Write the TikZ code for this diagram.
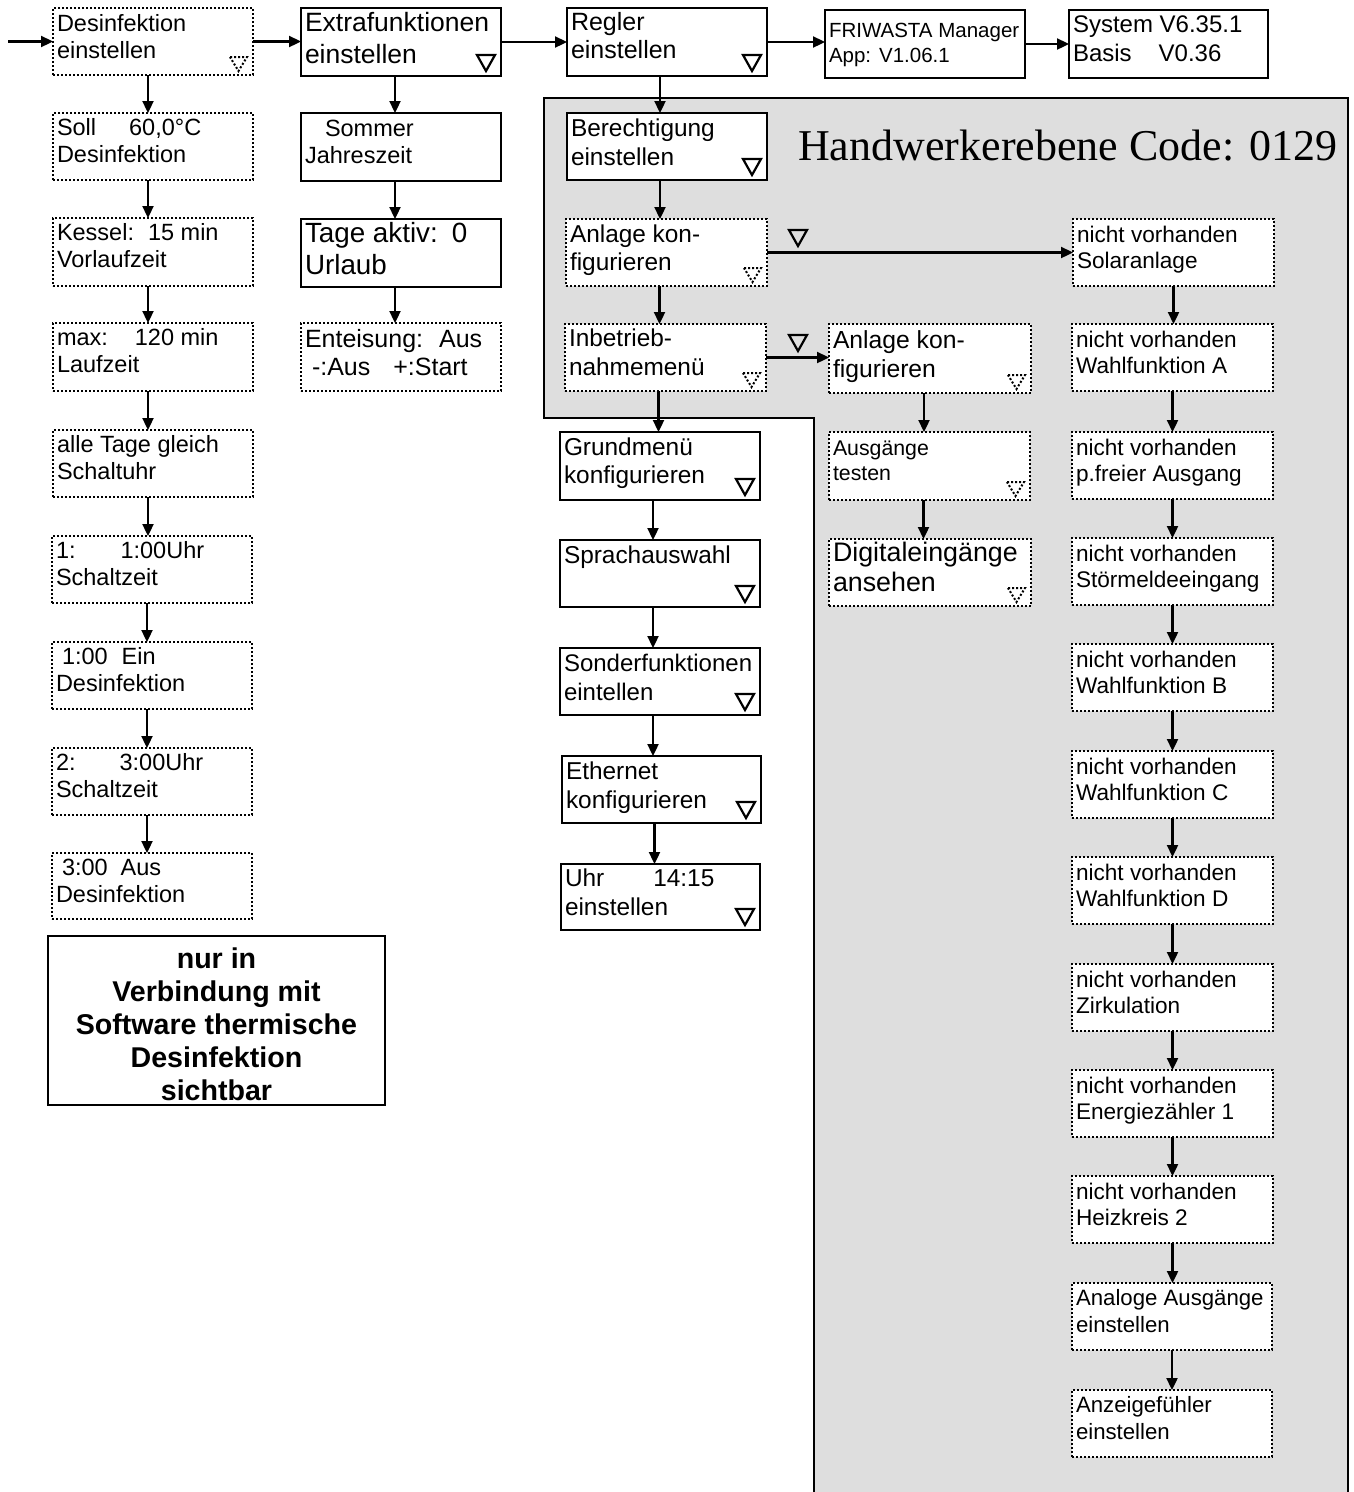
\documentclass[tikz,border=0pt]{standalone}
\usepackage{fontspec}
\setmainfont{Liberation Sans}
\newfontfamily\seriffont{Liberation Serif}
\usetikzlibrary{arrows.meta,calc}
\definecolor{bggray}{RGB}{222,222,222}
\newcommand\tb[3]{\parbox[c][\dimexpr#2pt-4pt\relax][t]{\dimexpr#1pt-8pt\relax}{#3}}
\newcommand\fl[1]{\rule{0pt}{\dimexpr#1pt-2pt\relax}}
\newcommand\fs[2]{\fontsize{#1pt}{#2pt}\selectfont}
\newcommand\stri[1]{\draw[stri] ($(#1.south east)+(-24,-21)$) -- ++(18,0) -- ++(-9,16) -- cycle;}
\newcommand\dtri[1]{\draw[dtri] ($(#1.south east)+(-23,-18)$) -- ++(17,0) -- ++(-8.5,14) -- cycle;}
\begin{document}
\begin{tikzpicture}[x=1pt,y=-1pt,
 box/.style={anchor=north west, inner sep=0pt, outer sep=0pt, fill=white, text=black},
 sbox/.style={box, draw, line width=2pt},
 dbox/.style={box, draw, line width=2pt, dash pattern=on 2pt off 2pt},
 arr/.style={line width=2.3pt, -{Triangle[length=12pt,width=11pt]}},
 stri/.style={line width=2.2pt, line join=miter},
 dtri/.style={line width=2pt, dash pattern=on 2pt off 2pt}]
\useasboundingbox[fill=white] (0,0) rectangle (1353,1492);

% grey area
\fill[bggray] (544,98) -- (1348,98) -- (1348,1500) -- (814,1500) -- (814,418) -- (544,418) -- cycle;
\draw[line width=2.5pt] (814,1500) -- (814,418) -- (544,418) -- (544,98) -- (1348,98) -- (1348,1500);
\node[anchor=base west, inner sep=0pt] (hw) at (798,160) {\seriffont\fs{44}{50}Handwerkerebene Code: 0129};

% column 1
\node[dbox, minimum width=200pt, minimum height=67pt] (d1) at (53,8) {\tb{200}{67}{\fs{23.5}{27}\fl{23}Desinfektion\\einstellen}};
\node[dbox, minimum width=200pt, minimum height=67pt] (d2) at (53,113) {\tb{200}{67}{\fs{23.5}{27}\fl{22}Soll\hspace{33pt}60,0°C\\Desinfektion}};
\node[dbox, minimum width=200pt, minimum height=68pt] (d3) at (53,218) {\tb{200}{68}{\fs{23.5}{27}\fl{22}Kessel:\hspace{14pt}15 min\\Vorlaufzeit}};
\node[dbox, minimum width=200pt, minimum height=68pt] (d4) at (53,323) {\tb{200}{68}{\fs{23.5}{27}\fl{22}max:\hspace{27pt}120 min\\Laufzeit}};
\node[dbox, minimum width=200pt, minimum height=67pt] (d5) at (53,430) {\tb{200}{67}{\fs{23.5}{27}\fl{22}alle Tage gleich\\Schaltuhr}};
\node[dbox, minimum width=200pt, minimum height=67pt] (d6) at (52,536) {\tb{200}{67}{\fs{23.5}{27}\fl{22}1:\hspace{45pt}1:00Uhr\\Schaltzeit}};
\node[dbox, minimum width=200pt, minimum height=67pt] (d7) at (52,642) {\tb{200}{67}{\fs{23.5}{27}\fl{22}\hspace*{6pt}1:00\hspace{14pt}Ein\\Desinfektion}};
\node[dbox, minimum width=200pt, minimum height=67pt] (d8) at (52,748) {\tb{200}{67}{\fs{23.5}{27}\fl{22}2:\hspace{44pt}3:00Uhr\\Schaltzeit}};
\node[dbox, minimum width=200pt, minimum height=66pt] (d9) at (52,853) {\tb{200}{66}{\fs{23.5}{27}\fl{22}\hspace*{6pt}3:00\hspace{13pt}Aus\\Desinfektion}};
\node[sbox, minimum width=337pt, minimum height=169pt] (note) at (48,936) {\parbox[c][165pt][t]{329pt}{\centering\bfseries\fs{28.6}{33}\fl{32}nur in\\Verbindung mit\\Software thermische\\Desinfektion\\sichtbar}};

% column 2
\node[sbox, minimum width=200pt, minimum height=68pt] (e1) at (301,8) {\tb{200}{68}{\fs{26.5}{32}\fl{23}Extrafunktionen\\einstellen}};
\node[sbox, minimum width=200pt, minimum height=68pt] (e2) at (301,113) {\tb{200}{68}{\fs{23.5}{27}\fl{23}\hspace*{20pt}Sommer\\Jahreszeit}};
\node[sbox, minimum width=200pt, minimum height=68pt] (e3) at (301,219) {\tb{200}{68}{\fs{27.8}{32}\fl{23}Tage aktiv:\hspace{14pt}0\\Urlaub}};
\node[dbox, minimum width=200pt, minimum height=68pt] (e4) at (301,323) {\tb{200}{68}{\fs{25}{28}\fl{24}Enteisung:\hspace{16pt}Aus\\\hspace*{7pt}-:Aus\hspace{23pt}+:Start}};

% top row
\node[sbox, minimum width=200pt, minimum height=68pt] (r1) at (567,8) {\tb{200}{68}{\fs{25}{28}\fl{22}Regler\\einstellen}};
\node[sbox, minimum width=200pt, minimum height=68pt] (f1) at (825,10) {\tb{200}{68}{\fs{20.5}{25}\fl{27}FRIWASTA Manager\\App:\hspace{8pt}V1.06.1}};
\node[sbox, minimum width=199pt, minimum height=68pt] (s1) at (1069,10) {\tb{199}{68}{\fs{24}{29}\fl{22}System V6.35.1\\Basis\hspace{27pt}V0.36}};

% column 3
\node[sbox, line width=2.8pt, minimum width=200pt, minimum height=67pt] (b1) at (567,113) {\tb{200}{67}{\fs{24.4}{29}\fl{23}Berechtigung\\einstellen}};
\node[dbox, minimum width=201pt, minimum height=67pt] (a1) at (566,219) {\tb{201}{67}{\fs{24.4}{28}\fl{23}Anlage kon-\\figurieren}};
\node[dbox, minimum width=201pt, minimum height=67pt] (i1) at (565,324) {\tb{201}{67}{\fs{24.4}{29}\fl{22}Inbetrieb-\\nahmemenü}};
\node[sbox, minimum width=200pt, minimum height=68pt] (g1) at (560,432) {\tb{200}{68}{\fs{24.4}{28}\fl{23}Grundmenü\\konfigurieren}};
\node[sbox, minimum width=200pt, minimum height=67pt] (g2) at (560,540) {\tb{200}{67}{\fs{24.4}{28}\fl{23}Sprachauswahl}};
\node[sbox, minimum width=200pt, minimum height=67pt] (g3) at (560,648) {\tb{200}{67}{\fs{24}{29}\fl{23}Sonderfunktionen\\eintellen}};
\node[sbox, minimum width=199pt, minimum height=67pt] (g4) at (562,756) {\tb{199}{67}{\fs{24.4}{29}\fl{23}Ethernet\\konfigurieren}};
\node[sbox, minimum width=199pt, minimum height=66pt] (g5) at (561,864) {\tb{199}{66}{\fs{24.4}{29}\fl{22}Uhr\hspace{49pt}14:15\\einstellen}};

% column 4
\node[dbox, minimum width=202pt, minimum height=69pt] (c1) at (829,324) {\tb{202}{69}{\fs{24.7}{29}\fl{24}Anlage kon-\\figurieren}};
\node[dbox, minimum width=201pt, minimum height=68pt] (c2) at (829,432) {\tb{201}{68}{\fs{21.3}{25}\fl{23}Ausgänge\\testen}};
\node[dbox, minimum width=202pt, minimum height=67pt] (c3) at (829,539) {\tb{202}{67}{\fs{26.8}{30}\fl{22}Digitaleingänge\\ansehen}};

% column 5
\node[dbox, minimum width=201pt, minimum height=67pt] (n1) at (1073,219) {\tb{201}{67}{\fs{22.6}{26}\fl{23}nicht vorhanden\\Solaranlage}};
\node[dbox, minimum width=201pt, minimum height=67pt] (n2) at (1072,324) {\tb{201}{67}{\fs{22.6}{26}\fl{23}nicht vorhanden\\Wahlfunktion A}};
\node[dbox, minimum width=201pt, minimum height=67pt] (n3) at (1072,432) {\tb{201}{67}{\fs{22.6}{26}\fl{23}nicht vorhanden\\p.freier Ausgang}};
\node[dbox, minimum width=201pt, minimum height=67pt] (n4) at (1072,538) {\tb{201}{67}{\fs{22.6}{26}\fl{23}nicht vorhanden\\Störmeldeeingang}};
\node[dbox, minimum width=201pt, minimum height=67pt] (n5) at (1072,644) {\tb{201}{67}{\fs{22.6}{26}\fl{23}nicht vorhanden\\Wahlfunktion B}};
\node[dbox, minimum width=201pt, minimum height=67pt] (n6) at (1072,751) {\tb{201}{67}{\fs{22.6}{26}\fl{23}nicht vorhanden\\Wahlfunktion C}};
\node[dbox, minimum width=201pt, minimum height=67pt] (n7) at (1072,857) {\tb{201}{67}{\fs{22.6}{26}\fl{23}nicht vorhanden\\Wahlfunktion D}};
\node[dbox, minimum width=201pt, minimum height=67pt] (n8) at (1072,964) {\tb{201}{67}{\fs{22.6}{26}\fl{23}nicht vorhanden\\Zirkulation}};
\node[dbox, minimum width=201pt, minimum height=67pt] (n9) at (1072,1070) {\tb{201}{67}{\fs{22.6}{26}\fl{23}nicht vorhanden\\Energiezähler 1}};
\node[dbox, minimum width=201pt, minimum height=67pt] (n10) at (1072,1176) {\tb{201}{67}{\fs{22.6}{26}\fl{23}nicht vorhanden\\Heizkreis 2}};
\node[dbox, minimum width=200pt, minimum height=67pt] (n11) at (1072,1283) {\tb{200}{67}{\fs{22.2}{27}\fl{22}Analoge Ausgänge\\einstellen}};
\node[dbox, minimum width=200pt, minimum height=67pt] (n12) at (1072,1390) {\tb{200}{67}{\fs{22.2}{27}\fl{22}Anzeigefühler\\einstellen}};

% triangles in boxes
\dtri{d1}
\stri{e1}
\stri{r1}
\stri{b1}
\dtri{a1}
\dtri{i1}
\stri{g1}
\stri{g2}
\stri{g3}
\stri{g4}
\stri{g5}
\dtri{c1}
\dtri{c2}
\dtri{c3}
% triangles beside arrows
\draw[stri] (789,230) -- (807,230) -- (798,246) -- cycle;
\draw[stri] (789,335) -- (807,335) -- (798,351) -- cycle;

% connectors
\coordinate (in) at (8,41.5);
\draw[arr] (in) -- (d1.west);
\draw[arr] (d1.east) -- (d1.east -| e1.west);
\draw[arr] (e1.east) -- (e1.east -| r1.west);
\draw[arr] (r1.east) -- (r1.east -| f1.west);
\draw[arr] (f1.east) -- (f1.east -| s1.west);
\foreach \a/\b in {d1/d2,d2/d3,d3/d4,d4/d5,d5/d6,d6/d7,d7/d8,d8/d9}
  \draw[arr] ([xshift=-5pt]\a.south) -- ([xshift=-5pt]\a.south |- \b.north);
\foreach \a/\b in {e1/e2,e2/e3,e3/e4}
  \draw[arr] ([xshift=-6pt]\a.south) -- ([xshift=-6pt]\a.south |- \b.north);
\draw[arr] ([xshift=-7pt]r1.south) -- ([xshift=-7pt]r1.south |- b1.north);
\draw[arr] ([xshift=-7pt]b1.south) -- ([xshift=-7pt]b1.south |- a1.north);
\draw[arr] ([xshift=-7pt]a1.south) -- ([xshift=-7pt]a1.south |- i1.north);
\draw[arr] ([xshift=-7pt]i1.south) -- ([xshift=-7pt]i1.south |- g1.north);
\foreach \a/\b in {g1/g2,g2/g3,g3/g4,g4/g5}
  \draw[arr] ([xshift=-7pt]\a.south) -- ([xshift=-7pt]\a.south |- \b.north);
\draw[arr] (a1.east) -- (a1.east -| n1.west);
\draw[arr] (i1.east) -- (i1.east -| c1.west);
\foreach \a/\b in {c1/c2,c2/c3}
  \draw[arr] ([xshift=-6pt]\a.south) -- ([xshift=-6pt]\a.south |- \b.north);
\foreach \a/\b in {n1/n2,n2/n3,n3/n4,n4/n5,n5/n6,n6/n7,n7/n8,n8/n9,n9/n10,n10/n11,n11/n12}
  \draw[arr] (\a.south) -- (\a.south |- \b.north);
\end{tikzpicture}
\end{document}
